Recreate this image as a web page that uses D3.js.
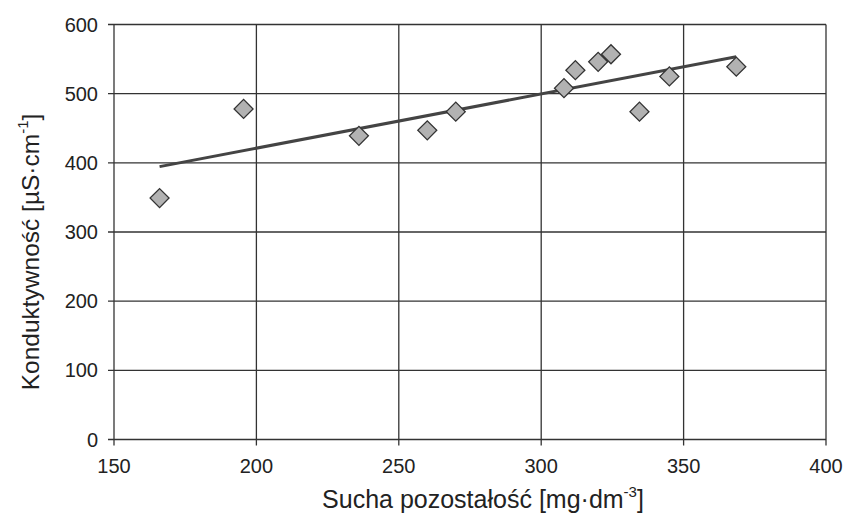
<!DOCTYPE html>
<html>
<head>
<meta charset="utf-8">
<script src="https://cdn.jsdelivr.net/npm/d3@7"></script>
<style>
  body { margin: 0; background: #fff; }
  svg { display: block; font-family: 'Liberation Sans', Arial, sans-serif; }
</style>
</head>
<body>
<svg width="852" height="517"></svg>
<script>
// sucha pozostałość [mg/dm3] vs konduktywność [µS/cm]
const dryResidue = [166, 195.5, 236, 260, 270, 308, 312, 320, 324.5, 334.5, 345, 368.5]
const conductivity = [349, 478, 439, 447, 474, 508, 534, 546, 557, 474, 525, 539]
const xTicks = [150, 200, 250, 300, 350, 400]
const yTicks = [0, 100, 200, 300, 400, 500, 600]

const svg = d3.select('svg')
const plotLeft = 114, plotRight = 826, plotTop = 24.5, plotBottom = 439.5

const x = d3.scaleLinear().domain([150, 400]).range([plotLeft, plotRight])
const y = d3.scaleLinear().domain([0, 600]).range([plotBottom, plotTop])

const points = dryResidue.map((d, i) => ({ x: d, y: conductivity[i] }))

// gridlines
const grid = svg.append('g').attr('stroke', '#333').attr('stroke-width', 1.3)
grid.selectAll('line.h')
  .data(yTicks)
  .join('line')
  .attr('class', 'h')
  .attr('x1', plotLeft - 6).attr('x2', plotRight)
  .attr('y1', d => y(d)).attr('y2', d => y(d))
grid.selectAll('line.v')
  .data(xTicks)
  .join('line')
  .attr('class', 'v')
  .attr('x1', d => x(d)).attr('x2', d => x(d))
  .attr('y1', plotTop).attr('y2', plotBottom + 6)

// tick labels
svg.append('g')
  .selectAll('text')
  .data(yTicks)
  .join('text')
  .attr('x', plotLeft - 16)
  .attr('y', d => y(d))
  .attr('dy', '0.35em')
  .attr('text-anchor', 'end')
  .attr('font-size', 20)
  .attr('fill', '#222')
  .text(d => d)

svg.append('g')
  .selectAll('text')
  .data(xTicks)
  .join('text')
  .attr('x', d => x(d))
  .attr('y', plotBottom + 33)
  .attr('text-anchor', 'middle')
  .attr('font-size', 20)
  .attr('fill', '#222')
  .text(d => d)

// linear trend from least squares
const mx = d3.mean(points, d => d.x)
const my = d3.mean(points, d => d.y)
const slope = d3.sum(points, d => (d.x - mx) * (d.y - my)) / d3.sum(points, d => (d.x - mx) ** 2)
const [xmin, xmax] = d3.extent(points, d => d.x)
const trend = [xmin, xmax].map(v => ({ x: v, y: my + slope * (v - mx) }))

svg.append('path')
  .datum(trend)
  .attr('d', d3.line().x(d => x(d.x)).y(d => y(d.y)))
  .attr('fill', 'none')
  .attr('stroke', '#444')
  .attr('stroke-width', 3)

// diamond markers
svg.append('g')
  .selectAll('path')
  .data(points)
  .join('path')
  .attr('transform', d => `translate(${x(d.x)},${y(d.y)}) rotate(45)`)
  .attr('d', d3.symbol(d3.symbolSquare, 180))
  .attr('fill', '#b2b2b2')
  .attr('stroke', '#333')
  .attr('stroke-width', 1.3)

// axis titles
const xTitle = svg.append('text')
  .attr('x', (plotLeft + plotRight) / 2 + 13)
  .attr('y', 508)
  .attr('text-anchor', 'middle')
  .attr('font-size', 25)
  .attr('fill', '#222')
xTitle.append('tspan').text('Sucha pozostałość [mg·dm')
xTitle.append('tspan').attr('dy', -11).attr('font-size', 15).text('-3')
xTitle.append('tspan').attr('dy', 11).text(']')

const yTitle = svg.append('text')
  .attr('transform', `translate(39, ${(plotTop + plotBottom) / 2 + 20}) rotate(-90)`)
  .attr('text-anchor', 'middle')
  .attr('font-size', 24.5)
  .attr('fill', '#222')
yTitle.append('tspan').text('Konduktywność [µS·cm')
yTitle.append('tspan').attr('dy', -11).attr('font-size', 15).text('-1')
yTitle.append('tspan').attr('dy', 11).text(']')
</script>
</body>
</html>
